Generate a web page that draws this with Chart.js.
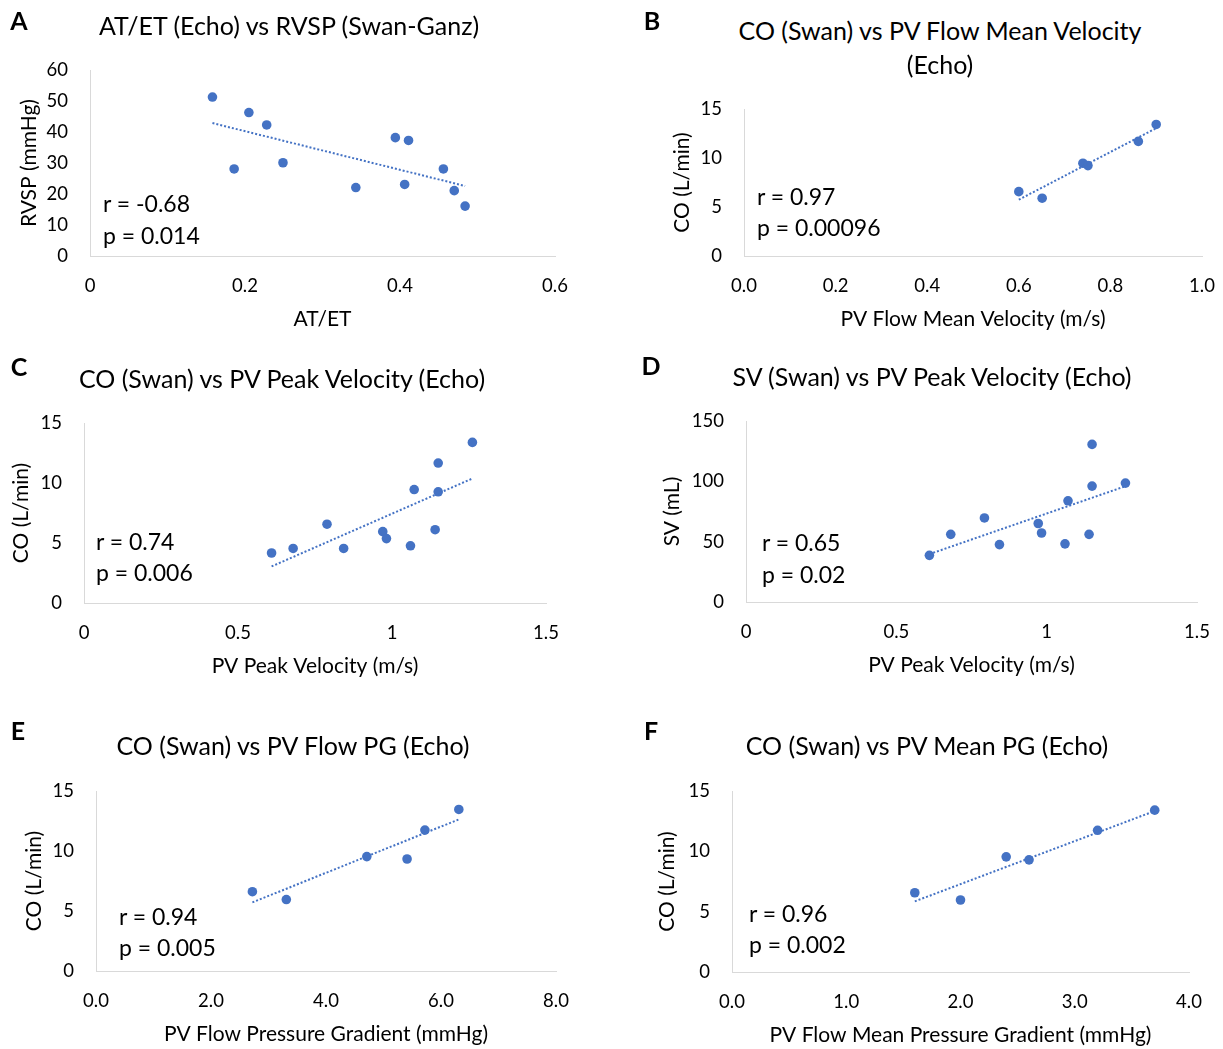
<!DOCTYPE html>
<html><head><meta charset="utf-8">
<script src="https://cdn.jsdelivr.net/npm/chart.js@4.4.1/dist/chart.umd.min.js"></script>
<style>
html,body{margin:0;padding:0;background:#fff;}
body{width:1223px;height:1049px;overflow:hidden;position:relative;font-family:Lato,"Open Sans",sans-serif;color:#000;}
canvas{position:absolute;}
.t{position:absolute;white-space:nowrap;line-height:1;}
</style></head><body>
<script>
// ---------- DATA ----------
// Panel A: AT/ET vs RVSP
const aX = [0.158, 0.186, 0.205, 0.228, 0.249, 0.343, 0.394, 0.411, 0.406, 0.456, 0.470, 0.484];
const aY = [51.3, 28.1, 46.3, 42.3, 30.1, 22.1, 38.2, 37.3, 23.1, 28.1, 21.1, 16.1];
const aTrendX = [0.158, 0.484];
const aTrendY = [42.9, 22.6];
const aXTicks = [0, 0.2, 0.4, 0.6];
const aXLabels = ["0", "0.2", "0.4", "0.6"];
const aYTicks = [0, 10, 20, 30, 40, 50, 60];
const aYLabels = ["0", "10", "20", "30", "40", "50", "60"];

// Panel B: CO vs PV Flow Mean Velocity
const bX = [0.600, 0.651, 0.740, 0.751, 0.861, 0.900];
const bY = [6.57, 5.90, 9.47, 9.23, 11.70, 13.43];
const bTrendX = [0.600, 0.900];
const bTrendY = [5.75, 13.05];
const bXTicks = [0, 0.2, 0.4, 0.6, 0.8, 1.0];
const bXLabels = ["0.0", "0.2", "0.4", "0.6", "0.8", "1.0"];
const bYTicks = [0, 5, 10, 15];
const bYLabels = ["0", "5", "10", "15"];

// Panel C: CO vs PV Peak Velocity
const cX = [0.609, 0.679, 0.789, 0.843, 0.970, 0.982, 1.060, 1.072, 1.140, 1.150, 1.150, 1.261];
const cY = [4.17, 4.55, 6.57, 4.55, 5.95, 5.37, 4.77, 9.46, 6.11, 11.67, 9.27, 13.39];
const cTrendX = [0.609, 1.261];
const cTrendY = [3.05, 10.38];
const cXTicks = [0, 0.5, 1, 1.5];
const cXLabels = ["0", "0.5", "1", "1.5"];
const cYTicks = [0, 5, 10, 15];
const cYLabels = ["0", "5", "10", "15"];

// Panel D: SV vs PV Peak Velocity
const dX = [0.610, 0.681, 0.793, 0.843, 0.972, 0.983, 1.061, 1.071, 1.141, 1.151, 1.151, 1.262];
const dY = [38.7, 56.1, 69.7, 47.6, 65.1, 57.2, 48.2, 83.9, 56.1, 130.7, 96.1, 98.6];
const dTrendX = [0.610, 1.262];
const dTrendY = [39.7, 96.0];
const dXTicks = [0, 0.5, 1, 1.5];
const dXLabels = ["0", "0.5", "1", "1.5"];
const dYTicks = [0, 50, 100, 150];
const dYLabels = ["0", "50", "100", "150"];

// Panel E: CO vs PV Flow PG
const eX = [2.72, 3.31, 4.71, 5.41, 5.72, 6.31];
const eY = [6.61, 5.96, 9.54, 9.34, 11.75, 13.47];
const eTrendX = [2.72, 6.31];
const eTrendY = [5.72, 12.64];
const eXTicks = [0, 2, 4, 6, 8];
const eXLabels = ["0.0", "2.0", "4.0", "6.0", "8.0"];
const eYTicks = [0, 5, 10, 15];
const eYLabels = ["0", "5", "10", "15"];

// Panel F: CO vs PV Mean PG
const fX = [1.60, 2.00, 2.40, 2.60, 3.20, 3.70];
const fY = [6.57, 5.97, 9.55, 9.30, 11.75, 13.42];
const fTrendX = [1.60, 3.70];
const fTrendY = [5.86, 13.35];
const fXTicks = [0, 1, 2, 3, 4];
const fXLabels = ["0.0", "1.0", "2.0", "3.0", "4.0"];
const fYTicks = [0, 5, 10, 15];
const fYLabels = ["0", "5", "10", "15"];

// ---------- PANELS ----------
const panels = [
  {letter:"A", title:["AT/ET (Echo) vs RVSP (Swan-Ganz)"], x:aX, y:aY, tx:aTrendX, ty:aTrendY,
   xt:aXTicks, xl:aXLabels, yt:aYTicks, yl:aYLabels, xTitle:"AT/ET", yTitle:"RVSP (mmHg)",
   r:"r = -0.68", p:"p = 0.014",
   g:{L:90, T:67, R:555, B:256, yTx:29, titleX:289, titleY:[26], letterXY:[19,21], ann:[103,204,236]}},
  {letter:"B", title:["CO (Swan) vs PV Flow Mean Velocity","(Echo)"], x:bX, y:bY, tx:bTrendX, ty:bTrendY,
   xt:bXTicks, xl:bXLabels, yt:bYTicks, yl:bYLabels, xTitle:"PV Flow Mean Velocity (m/s)", yTitle:"CO (L/min)",
   r:"r = 0.97", p:"p = 0.00096",
   g:{L:744, T:106, R:1202, B:256, yTx:682, titleX:940, titleY:[31,65], letterXY:[652,21], ann:[757,197,228]}},
  {letter:"C", title:["CO (Swan) vs PV Peak Velocity (Echo)"], x:cX, y:cY, tx:cTrendX, ty:cTrendY,
   xt:cXTicks, xl:cXLabels, yt:cYTicks, yl:cYLabels, xTitle:"PV Peak Velocity (m/s)", yTitle:"CO (L/min)",
   r:"r = 0.74", p:"p = 0.006",
   g:{L:84, T:420, R:546, B:603, yTx:21, titleX:282, titleY:[379], letterXY:[19,367], ann:[96,542,573]}},
  {letter:"D", title:["SV (Swan) vs PV Peak Velocity (Echo)"], x:dX, y:dY, tx:dTrendX, ty:dTrendY,
   xt:dXTicks, xl:dXLabels, yt:dYTicks, yl:dYLabels, xTitle:"PV Peak Velocity (m/s)", yTitle:"SV (mL)",
   r:"r = 0.65", p:"p = 0.02",
   g:{L:746, T:418, R:1197, B:602, yTx:672, titleX:932, titleY:[377], letterXY:[651,366], ann:[762,543,575]}},
  {letter:"E", title:["CO (Swan) vs PV Flow PG (Echo)"], x:eX, y:eY, tx:eTrendX, ty:eTrendY,
   xt:eXTicks, xl:eXLabels, yt:eYTicks, yl:eYLabels, xTitle:"PV Flow Pressure Gradient (mmHg)", yTitle:"CO (L/min)",
   r:"r = 0.94", p:"p = 0.005",
   g:{L:96, T:788, R:556, B:971, yTx:34, titleX:293, titleY:[746], letterXY:[18,731], ann:[119,917,948]}},
  {letter:"F", title:["CO (Swan) vs PV Mean PG (Echo)"], x:fX, y:fY, tx:fTrendX, ty:fTrendY,
   xt:fXTicks, xl:fXLabels, yt:fYTicks, yl:fYLabels, xTitle:"PV Flow Mean Pressure Gradient (mmHg)", yTitle:"CO (L/min)",
   r:"r = 0.96", p:"p = 0.002",
   g:{L:732, T:788, R:1189, B:972, yTx:667, titleX:927, titleY:[746], letterXY:[651,731], ann:[749,914,945]}}
];

const BLUE = "#4472C4";
const FONT = "Lato";
const TICK_FS = 18.5, AXT_FS = 21, TITLE_FS = 25, ANN_FS = 23, LETTER_FS = 25;
const CAPC = 0.529; // cap-centre offset (em) for line-height 1

function addText(txt, x, capY, fs, weight, align) {
  const d = document.createElement("div");
  d.className = "t";
  d.textContent = txt;
  d.style.fontSize = fs + "px";
  d.style.fontWeight = weight;
  d.style.top = (capY - CAPC * fs) + "px";
  d.style.left = x + "px";
  if (align === "center") d.style.transform = "translateX(-50%)";
  document.body.appendChild(d);
}

function build(p) {
  const g = p.g;
  const lh = TICK_FS * 1.2;
  const lhT = AXT_FS * 1.2;
  const cl = g.yTx - 18, ct = g.T - 30, cr = g.R + 40, cb = g.B + 90;
  const cv = document.createElement("canvas");
  cv.width = cr - cl; cv.height = cb - ct;
  cv.style.left = cl + "px"; cv.style.top = ct + "px";
  cv.style.width = (cr - cl) + "px"; cv.style.height = (cb - ct) + "px";
  document.body.appendChild(cv);
  const yw = g.L - cl;
  new Chart(cv, {
    type: "scatter",
    data: {datasets: [
      {type: "line", data: p.tx.map((x, i) => ({x: x, y: p.ty[i]})), borderColor: BLUE, borderWidth: 2,
       borderDash: [2, 2], pointRadius: 0, fill: false, tension: 0, order: 0},
      {data: p.x.map((x, i) => ({x: x, y: p.y[i]})), backgroundColor: BLUE, borderColor: BLUE,
       borderWidth: 0, pointRadius: 4.8, order: 1}
    ]},
    options: {
      responsive: false, animation: false, events: [],
      layout: {padding: {left: 0, top: 30, right: 40, bottom: 0}},
      plugins: {legend: {display: false}, tooltip: {enabled: false}},
      scales: {
        x: {type: "linear", min: p.xt[0], max: p.xt[p.xt.length - 1],
            afterBuildTicks: s => { s.ticks = p.xt.map(v => ({value: v})); },
            afterFit: s => { s.height = 90; },
            grid: {display: false, drawTicks: false},
            border: {display: true, color: "#D9D9D9", width: 1},
            ticks: {autoSkip: false, maxRotation: 0, padding: 30 - lh / 2, color: "#000",
                    font: {family: FONT, size: TICK_FS}, callback: (v, i) => p.xl[i]},
            title: {display: true, text: p.xTitle, color: "#000", font: {family: FONT, size: AXT_FS},
                    padding: {top: 0, bottom: 27 - lhT / 2}}},
        y: {type: "linear", min: p.yt[0], max: p.yt[p.yt.length - 1],
            afterBuildTicks: s => { s.ticks = p.yt.map(v => ({value: v})); },
            afterFit: s => { s.width = yw; },
            grid: {display: false, drawTicks: false},
            border: {display: true, color: "#D9D9D9", width: 1},
            ticks: {autoSkip: false, padding: 22, color: "#000",
                    font: {family: FONT, size: TICK_FS}, callback: (v, i) => p.yl[i]},
            title: {display: true, text: p.yTitle, color: "#000", font: {family: FONT, size: AXT_FS},
                    padding: {top: 18 - lhT / 2, bottom: 0}}}
      }
    }
  });
  p.title.forEach((t, i) => addText(t, g.titleX, g.titleY[i], TITLE_FS, 400, "center"));
  addText(p.letter, g.letterXY[0], g.letterXY[1], LETTER_FS, 700, "center");
  addText(p.r, g.ann[0], g.ann[1], ANN_FS, 400, "left");
  addText(p.p, g.ann[0], g.ann[2], ANN_FS, 400, "left");
}

function go() { panels.forEach(build); }
if (document.fonts && document.fonts.load) {
  Promise.all([document.fonts.load("18px Lato"), document.fonts.load("bold 18px Lato")]).then(go, go);
} else { go(); }
</script>
</body></html>
